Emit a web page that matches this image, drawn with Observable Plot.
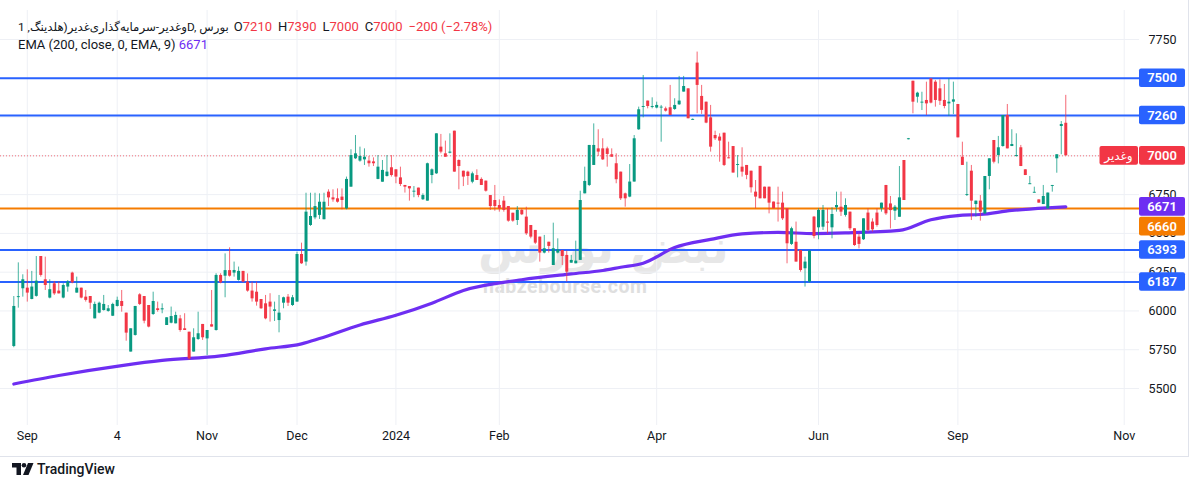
<!DOCTYPE html>
<html><head><meta charset="utf-8">
<script src="https://cdn.jsdelivr.net/npm/d3@7"></script>
<script src="https://cdn.jsdelivr.net/npm/@observablehq/plot@0.6"></script>
<style>
body{margin:0;background:#fff;font-family:Roboto,"Noto Sans","DejaVu Sans",sans-serif;}
#wrap{position:relative;width:1200px;height:489px;overflow:hidden;background:#fff;}
#frame{position:absolute;left:0;top:0;width:1188px;height:456px;border-right:1px solid #e0e3eb;border-bottom:1px solid #e0e3eb;pointer-events:none;}
#chart{position:absolute;left:0;top:0;}
#legend{position:absolute;left:18px;top:18px;font-size:13px;color:#131722;line-height:18px;white-space:nowrap;}
#legend .fa{font-size:11.8px;}
#legend .r{color:#f23645;}
#legend .p{color:#6e2ef2;}
#legend .g{margin-left:6px;}
#legend .g0{margin-left:5px;}
#wm1{position:absolute;left:478px;top:220px;font-size:46px;font-weight:bold;color:#d4d4d4;opacity:.55;font-family:"DejaVu Sans",sans-serif;}
#wm2{position:absolute;left:483px;top:275px;font-size:19.5px;font-weight:bold;color:#d2d2d2;opacity:.7;letter-spacing:.5px;}
#tv{position:absolute;left:12px;top:461px;font-size:14px;color:#131722;display:flex;align-items:center;gap:3px;font-weight:500;}
</style></head><body>
<div id="wrap">
<div id="wm1">نبض بورس</div>
<div id="wm2">nabzebourse.com</div>
<div id="chart"></div>
<div id="frame"></div>
<div id="legend">
<div><span class="fa">وغدیر-سرمایه‌گذاری‌غدیر(هلدینگ, 1D, بورس</span><span class="g0">O<span class="r">7210</span></span><span class="g">H<span class="r">7390</span></span><span class="g">L<span class="r">7000</span></span><span class="g">C<span class="r">7000</span></span><span class="g r">−200 (−2.78%)</span></div>
<div>EMA (200, close, 0, EMA, 9) <span class="p">6671</span></div>
</div>
<div id="tv"><svg width="22" height="13" viewBox="0 0 22 13"><path d="M0 0h9v12h-4.5v-7.5h-4.5z" fill="#131722"/><circle cx="12" cy="2.3" r="2.3" fill="#131722"/><path d="M16 0h5.5l-5 12h-5.5z" fill="#131722"/></svg><span>TradingView</span></div>
</div>
<script>
const open = [5771,6090,6143,6147,6074,6094,6351,6201,6083,6175,6128,6083,6154,6244,6115,6147,6089,6093,5949,5986,6003,5997,5966,6029,6061,5986,5735,5842,6104,6093,6035,5977,6014,6007,5906,5921,5917,5949,5885,5863,5735,5816,5913,5820,5911,5874,6229,6224,6260,6244,6197,6255,6186,6128,6121,6074,6046,6057,5997,5938,6050,6089,6035,6057,6364,6315,6551,6600,6616,6588,6766,6729,6723,6734,6658,6798,6981,6966,6974,6966,6961,6848,6830,6867,6923,6910,6858,6809,6802,6766,6792,6717,6708,6873,6884,7056,7013,7017,7159,6970,6901,6895,6830,6873,6848,6837,6744,6712,6680,6708,6673,6630,6583,6648,6605,6551,6519,6476,6373,6443,6293,6373,6390,6358,6308,6304,6326,6755,6809,6938,7045,7045,7045,7007,6949,6895,6755,6734,6831,7168,7314,7353,7314,7308,7310,7303,7310,7299,7329,7411,7432,7230,7598,7383,7346,7245,7131,7121,7146,6987,7060,6938,6927,6938,6901,6766,6932,6798,6798,6702,6695,6695,6659,6429,6443,6390,6272,6186,6605,6536,6540,6573,6536,6665,6669,6616,6637,6530,6476,6459,6631,6573,6631,6659,6809,6690,6643,6604,6970,7105,7481,7378,7340,7357,7496,7475,7432,7357,7335,7346,7331,6991,6744,6901,6686,6708,6626,6867,7099,7002,7060,7260,7060,6996,7052,6910,6815,6760,6716,6686,6658,6805,6981,7189,7210];
const high = [6093,6310,6233,6265,6255,6351,6351,6347,6201,6190,6186,6175,6196,6250,6218,6147,6132,6093,6057,6057,6100,6035,6050,6089,6132,5986,5885,6029,6111,6093,6035,6121,6057,6046,5956,6025,5992,5971,5982,5863,5885,5992,5913,5874,6132,6240,6240,6368,6407,6315,6283,6255,6239,6186,6186,6074,6100,6111,6057,6100,6089,6106,6100,6379,6437,6759,6759,6759,6755,6759,6781,6781,6787,6787,6863,7039,7131,7056,7045,6996,6987,7002,6970,7002,7002,6910,6927,6809,6802,6802,6792,6755,6953,6916,7142,7138,7095,7142,7159,6974,6901,6901,6895,6910,6858,6837,6744,6809,6716,6738,6673,6630,6673,6658,6669,6551,6519,6476,6487,6443,6566,6465,6390,6386,6358,6450,6772,6927,7067,7206,7168,7110,7056,7045,7013,6895,6760,6944,7131,7314,7518,7353,7374,7346,7325,7314,7454,7368,7512,7512,7432,7238,7669,7454,7346,7325,7159,7142,7146,7088,7060,7002,7052,6938,6901,6841,6932,6798,6798,6702,6798,6766,6659,6540,6573,6390,6347,6386,6609,6659,6680,6659,6665,6766,6766,6723,6637,6530,6497,6594,6659,6594,6659,6695,6809,6738,6680,6931,6970,7112,7481,7410,7410,7475,7496,7486,7490,7460,7497,7475,7331,7088,6959,6938,6708,6744,6867,6981,7099,7125,7260,7331,7168,7142,7067,6910,6867,6798,6716,6809,6760,6809,7007,7221,7390];
const low = [5763,6018,6089,6057,6072,6089,6218,6132,6078,6100,6110,6078,6121,6175,6115,6078,6057,6010,5949,5982,5999,5992,5964,6025,5992,5805,5735,5838,6035,5917,5891,5971,5992,5982,5906,5917,5917,5863,5874,5681,5735,5810,5810,5713,5896,5870,6175,6085,6218,6218,6192,6181,6121,6057,6031,6010,5943,5928,5932,5859,6014,6029,6029,6057,6300,6289,6545,6588,6590,6588,6673,6701,6695,6652,6652,6798,6976,6959,6938,6927,6931,6846,6830,6863,6863,6820,6802,6760,6708,6730,6730,6712,6708,6820,6880,7013,6991,7013,6895,6781,6802,6809,6820,6841,6809,6766,6648,6643,6637,6637,6572,6572,6551,6615,6487,6465,6428,6315,6368,6373,6293,6368,6293,6186,6308,6304,6326,6755,6802,6938,6996,6970,6927,6991,6820,6712,6669,6730,6831,7164,7245,7303,7303,7303,7088,7282,7260,7293,7325,7411,7239,7228,7271,7267,7207,7024,7099,6959,6931,6981,6889,6858,6863,6846,6760,6659,6723,6723,6626,6659,6573,6583,6304,6422,6315,6250,6154,6180,6465,6459,6519,6497,6465,6637,6609,6605,6519,6416,6400,6454,6508,6508,6540,6637,6616,6529,6583,6604,6712,7103,7271,7340,7292,7260,7335,7314,7325,7303,7254,7266,7116,6938,6738,6583,6605,6579,6622,6781,6948,6948,7056,7045,7060,6991,6931,6873,6815,6760,6695,6686,6658,6766,6888,7007,7000];
const close = [6029,6092,6201,6115,6154,6192,6229,6164,6137,6110,6110,6164,6186,6181,6147,6083,6068,6050,6042,6050,6042,6014,6042,6068,6029,5857,5885,6029,6042,5934,5896,6061,6003,6014,5956,5964,5971,5874,5874,5691,5827,5853,5827,5874,5896,6229,6181,6260,6224,6261,6255,6186,6128,6078,6057,6014,5949,6025,6007,5986,6085,6050,6085,6364,6304,6637,6609,6673,6701,6701,6729,6716,6701,6712,6848,7002,7013,6996,6991,6949,6949,6927,6906,6895,6873,6863,6815,6798,6787,6772,6744,6744,6949,6910,7142,7024,6991,7024,6895,6931,6863,6867,6884,6841,6809,6772,6673,6673,6658,6648,6579,6579,6648,6620,6497,6476,6437,6373,6401,6416,6401,6394,6351,6250,6326,6321,6712,6835,7067,7067,7024,6974,7009,6991,6846,6723,6723,6831,7110,7297,7318,7318,7318,7325,7314,7288,7260,7325,7353,7447,7239,7235,7454,7293,7211,7056,7110,7095,6938,6981,6889,6944,6895,6874,6794,6734,6723,6723,6695,6659,6691,6594,6433,6530,6315,6261,6315,6386,6480,6648,6648,6566,6622,6680,6637,6680,6530,6422,6429,6594,6519,6523,6551,6695,6626,6647,6669,6729,6712,7110,7346,7404,7346,7335,7340,7357,7352,7318,7346,7361,7116,6938,6750,6708,6708,6637,6867,6981,6959,7052,7260,7045,7073,7002,6931,6873,6820,6765,6695,6738,6760,6809,7007,7202,7000];

const xTickIdx = [3, 23, 43, 63, 85, 108, 143, 179, 210, 247];
const xTickLabels = ["Sep", "4", "Nov", "Dec", "2024", "Feb", "Apr", "Jun", "Sep", "Nov"];
const yTicks = [5500, 5750, 6000, 6250, 6500, 6750, 7000, 7250, 7500, 7750];
const blueLevels = [7500, 7260, 6393, 6187];
const orangeLevel = 6660;
const emaIdx = [0,10,24,33,46,56,64,68,77,85,93,100,113,124,131,135,140,147,155,162,170,178,185,197,204,210,215,222,230,234];
const emaVal = [5529,5584,5648,5681,5710,5756,5788,5822,5910,5972,6050,6132,6201,6239,6261,6282,6308,6409,6461,6497,6506,6499,6503,6519,6588,6615,6622,6648,6665,6671];
const symbolName = "وغدیر";

const GREEN = "#089981", RED = "#f23645", BLUE = "#2962ff", ORANGE = "#f57c00", PURPLE = "#6e2ef2";

const candles = open.map((o, i) => {
  const c = close[i];
  let top = Math.max(o, c), bot = Math.min(o, c);
  if (top - bot < 6) bot = top - 6;
  return {i, o, h: high[i], l: low[i], c, top, bot, up: c >= o};
});
const ema = emaIdx.map((i, k) => ({i, v: emaVal[k]}));
const last = candles[candles.length - 1];

const chart = Plot.plot({
  width: 1200,
  height: 455,
  marginTop: 10,
  marginBottom: 30,
  marginLeft: 0,
  marginRight: 61,
  x: {domain: [-2.96, 250.4], label: null},
  y: {domain: [5261.5, 7937], label: null},
  style: {fontFamily: "Roboto, 'Noto Sans', sans-serif", fontSize: "12.5px", color: "#131722", background: "transparent"},
  marks: [
    Plot.ruleY(yTicks, {stroke: "#eef0f5", strokeWidth: 1}),
    Plot.ruleX(xTickIdx, {stroke: "#eef0f5", strokeWidth: 1}),
    Plot.ruleY(blueLevels, {stroke: BLUE, strokeWidth: 2}),
    Plot.ruleY([orangeLevel], {stroke: ORANGE, strokeWidth: 2}),
    Plot.ruleY([last.c], {stroke: RED, strokeWidth: 1, strokeDasharray: "1,2", strokeOpacity: 0.7}),
    Plot.line(ema, {x: "i", y: "v", stroke: PURPLE, strokeWidth: 3.2, curve: "monotone-x"}),
    Plot.ruleX(candles, {x: "i", y1: "l", y2: "h", stroke: d => d.up ? GREEN : RED, strokeWidth: 1, strokeOpacity: 0.75}),
    Plot.ruleX(candles, {x: "i", y1: "bot", y2: "top", stroke: d => d.up ? GREEN : RED, strokeWidth: 3}),
    Plot.axisX({ticks: xTickIdx, tickFormat: (d, k) => xTickLabels[k], tickSize: 0, tickPadding: 6, fontSize: 12.5, label: null}),
    Plot.axisY({ticks: yTicks, anchor: "right", tickSize: 0, tickPadding: 9, tickFormat: d => String(d), fontSize: 12.5, label: null})
  ]
});
document.getElementById("chart").appendChild(chart);

// price label boxes on the price scale
const ys = chart.scale("y");
const svg = d3.select(chart);
const boxes = [
  {v: 7500, fill: BLUE, dy: 0},
  {v: 7260, fill: BLUE, dy: 0},
  {v: last.c, fill: RED, dy: 0, name: symbolName},
  {v: emaVal[emaVal.length - 1], fill: PURPLE, dy: 0},
  {v: orangeLevel, fill: ORANGE, dy: 18},
  {v: 6393, fill: BLUE, dy: 0},
  {v: 6187, fill: BLUE, dy: 0}
];
const g = svg.append("g");
for (const b of boxes) {
  const cy = ys.apply(b.v) + b.dy;
  g.append("rect").attr("x", 1139).attr("y", cy - 9.3).attr("width", 46).attr("height", 18.6).attr("rx", 2).attr("fill", b.fill);
  g.append("text").attr("x", 1162).attr("y", cy).attr("dy", "0.36em").attr("text-anchor", "middle")
    .attr("fill", "#fff").attr("font-size", 13).attr("font-weight", 600).text(String(b.v));
  if (b.name) {
    g.append("rect").attr("x", 1099.5).attr("y", cy - 9.3).attr("width", 38.5).attr("height", 18.6).attr("rx", 2).attr("fill", b.fill);
    g.append("text").attr("x", 1118.5).attr("y", cy).attr("dy", "0.36em").attr("text-anchor", "middle")
      .attr("fill", "#fff").attr("font-size", 12).attr("font-family", "'DejaVu Sans', sans-serif").text(b.name);
  }
}
</script>
</body></html>
